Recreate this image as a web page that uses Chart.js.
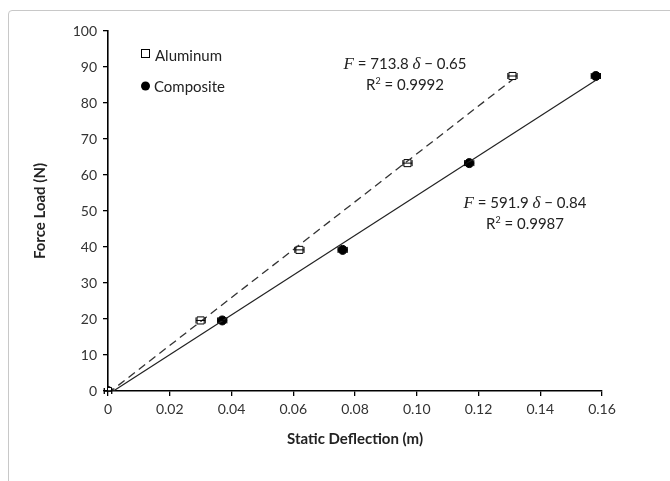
<!DOCTYPE html>
<html lang="en">
<head>
  <meta charset="UTF-8" />
  <title>Force Load vs Static Deflection</title>
  <script src="https://cdn.jsdelivr.net/npm/chart.js"></script>
  <style>
    html, body { margin: 0; padding: 0; background: #fff; }
    .wrap { position: relative; width: 670px; height: 481px; overflow: hidden; }
    .frame { position: absolute; left: 8px; top: 10px; width: 700px; height: 520px;
             border: 1px solid #c8c8c8; border-radius: 4px; }
    canvas { position: absolute; left: 0; top: 0; }
  </style>
</head>
<body>
  <div class="wrap">
    <div class="frame"></div>
    <canvas id="chart" width="670" height="481"></canvas>
  </div>

  <script>
    // data
    const aluX = [0, 0.030, 0.062, 0.097, 0.131];
    const aluY = [0, 19.6, 39.2, 63.3, 87.5];
    const compX = [0, 0.037, 0.076, 0.117, 0.158];
    const compY = [0, 19.6, 39.2, 63.3, 87.5];
    const xErr = [0.0012, 0.0015, 0.0015, 0.0015, 0.0015];
    const xTicks = [0, 0.02, 0.04, 0.06, 0.08, 0.1, 0.12, 0.14, 0.16];
    const yTicks = [0, 10, 20, 30, 40, 50, 60, 70, 80, 90, 100];
    const seriesNames = ['Aluminum', 'Composite'];
    const fitText = [
      ['713.8', '0.65', '0.9992'],
      ['591.9', '0.84', '0.9987']
    ];

    // least squares trend line over the data range
    function trend(xs, ys) {
      const n = xs.length;
      const mx = xs.reduce((a, b) => a + b, 0) / n;
      const my = ys.reduce((a, b) => a + b, 0) / n;
      let sxy = 0, sxx = 0;
      for (let i = 0; i < n; i++) {
        sxy += (xs[i] - mx) * (ys[i] - my);
        sxx += (xs[i] - mx) * (xs[i] - mx);
      }
      const m = sxy / sxx, b = my - m * mx;
      const x0 = Math.min(...xs), x1 = Math.max(...xs);
      return [{ x: x0, y: m * x0 + b }, { x: x1, y: m * x1 + b }];
    }

    const pts = (xs, ys) => xs.map((x, i) => ({ x: x, y: ys[i] }));

    // small horizontal error bars
    const errorBars = {
      id: 'errorBars',
      afterDatasetsDraw(chart) {
        const ctx = chart.ctx, xs = chart.scales.x, ys = chart.scales.y;
        ctx.save();
        ctx.strokeStyle = '#000';
        ctx.lineWidth = 1;
        [[aluX, aluY], [compX, compY]].forEach(([X, Y]) => {
          X.forEach((x, i) => {
            const a = xs.getPixelForValue(x - xErr[i]);
            const b = xs.getPixelForValue(x + xErr[i]);
            const py = ys.getPixelForValue(Y[i]);
            ctx.beginPath();
            ctx.moveTo(a, py); ctx.lineTo(b, py);
            ctx.moveTo(a, py - 3); ctx.lineTo(a, py + 3);
            ctx.moveTo(b, py - 3); ctx.lineTo(b, py + 3);
            ctx.stroke();
          });
        });
        ctx.restore();
      }
    };

    // equation + R squared, centred on cx
    function drawEq(ctx, cx, y, f) {
      const parts = [
        ['italic 17px "Liberation Serif"', 'F'],
        ['15px Lato', ' = ' + f[0] + ' '],
        ['italic 17px "Liberation Serif"', 'δ'],
        ['15px Lato', ' \u2212 ' + f[1]]
      ];
      let w = 0;
      parts.forEach(p => { ctx.font = p[0]; w += ctx.measureText(p[1]).width; });
      let x = cx - w / 2;
      ctx.textAlign = 'left';
      parts.forEach(p => { ctx.font = p[0]; ctx.fillText(p[1], x, y); x += ctx.measureText(p[1]).width; });
      ctx.font = '15px Lato';
      const a = 'R', s = '2', b = ' = ' + f[2];
      const wa = ctx.measureText(a).width, wb = ctx.measureText(b).width;
      ctx.font = '9px Lato';
      const ws = ctx.measureText(s).width;
      let x2 = cx - (wa + ws + wb) / 2;
      ctx.font = '15px Lato';
      ctx.fillText(a, x2, y + 21); x2 += wa;
      ctx.font = '9px Lato';
      ctx.fillText(s, x2, y + 15); x2 += ws;
      ctx.font = '15px Lato';
      ctx.fillText(b, x2, y + 21);
    }

    const labels = {
      id: 'labels',
      afterDraw(chart) {
        const ctx = chart.ctx;
        ctx.save();
        ctx.textBaseline = 'alphabetic';
        // legend
        ctx.strokeStyle = '#000';
        ctx.lineWidth = 1;
        ctx.fillStyle = '#fff';
        ctx.fillRect(141.5, 49.5, 8, 8);
        ctx.strokeRect(141.5, 49.5, 8, 8);
        ctx.fillStyle = '#000';
        ctx.beginPath();
        ctx.arc(145.5, 86, 4.5, 0, Math.PI * 2);
        ctx.fill();
        ctx.fillStyle = '#222';
        ctx.font = '15px Lato';
        ctx.textAlign = 'left';
        ctx.fillText(seriesNames[0], 155, 61);
        ctx.fillText(seriesNames[1], 154, 92);
        drawEq(ctx, 405, 69, fitText[0]);
        drawEq(ctx, 525, 208, fitText[1]);
        ctx.restore();
      }
    };

    const ctx = document.getElementById('chart').getContext('2d');
    new Chart(ctx, {
      type: 'scatter',
      data: {
        datasets: [
          {
            label: seriesNames[0] + ' fit',
            data: trend(aluX, aluY),
            showLine: true,
            borderColor: '#333',
            borderWidth: 1.3,
            borderDash: [8, 5],
            pointRadius: 0
          },
          {
            label: seriesNames[1] + ' fit',
            data: trend(compX, compY),
            showLine: true,
            borderColor: '#222',
            borderWidth: 1.2,
            pointRadius: 0
          },
          {
            label: seriesNames[0],
            data: pts(aluX, aluY),
            pointStyle: 'rect',
            pointRadius: 5,
            backgroundColor: '#fff',
            borderColor: '#000',
            borderWidth: 1
          },
          {
            label: seriesNames[1],
            data: pts(compX, compY),
            pointStyle: 'circle',
            pointRadius: 4.5,
            backgroundColor: '#000',
            borderColor: '#000',
            borderWidth: 1
          }
        ]
      },
      options: {
        responsive: false,
        animation: false,
        layout: { padding: { left: 25, top: 31, right: 68, bottom: 30 } },
        plugins: {
          legend: { display: false },
          tooltip: { enabled: false }
        },
        scales: {
          x: {
            type: 'linear',
            min: 0,
            max: 0.16,
            afterBuildTicks: s => { s.ticks = xTicks.map(v => ({ value: v })); },
            afterFit: s => { s.height = 60; },
            ticks: {
              color: '#333',
              font: { family: 'Lato', size: 14 },
              padding: 5,
              maxRotation: 0
            },
            grid: { drawOnChartArea: false, drawTicks: true, tickLength: 5, color: '#000', lineWidth: 1.3 },
            border: { color: '#000', width: 1.6 },
            title: {
              display: true,
              text: 'Static Deflection (m)',
              color: '#222',
              font: { family: 'Lato', size: 15, weight: 'bold' },
              padding: { top: 0, bottom: 3 }
            }
          },
          y: {
            min: 0,
            max: 100,
            afterBuildTicks: s => { s.ticks = yTicks.map(v => ({ value: v })); },
            afterFit: s => { s.width = 83; },
            ticks: {
              color: '#333',
              font: { family: 'Lato', size: 14 },
              padding: 6
            },
            grid: { drawOnChartArea: false, drawTicks: true, tickLength: 5, color: '#000', lineWidth: 1.3 },
            border: { color: '#000', width: 1.6 },
            title: {
              display: true,
              text: 'Force Load (N)',
              color: '#222',
              font: { family: 'Lato', size: 15, weight: 'bold' },
              padding: { top: 6, bottom: 0 }
            }
          }
        }
      },
      plugins: [errorBars, labels]
    });
  </script>
</body>
</html>
